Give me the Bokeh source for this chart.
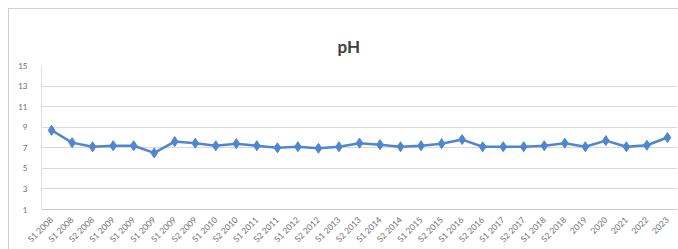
from math import pi
from bokeh.plotting import figure
from bokeh.models import Range1d, FixedTicker, Title
from bokeh.embed import file_html
from bokeh.resources import INLINE

title_text = "pH"
labels = ["S1 2008", "S1 2008", "S2 2008", "S1 2009", "S1 2009", "S1 2009", "S1 2009",
          "S2 2009", "S1 2010", "S2 2010", "S1 2011", "S2 2011", "S1 2012", "S2 2012",
          "S1 2013", "S2 2013", "S1 2014", "S2 2014", "S1 2015", "S2 2015", "S1 2016",
          "S2 2016", "S1 2017", "S2 2017", "S1 2018", "S2 2018", "2019", "2020", "2021",
          "2022", "2023"]
ph = [8.7, 7.5, 7.1, 7.2, 7.2, 6.5, 7.6, 7.45, 7.2, 7.4, 7.2, 7.0, 7.1, 6.95, 7.1,
      7.45, 7.3, 7.1, 7.2, 7.4, 7.8, 7.1, 7.1, 7.1, 7.2, 7.45, 7.1, 7.7, 7.1, 7.25, 8.0]
y_ticks = [1, 3, 5, 7, 9, 11, 13, 15]

xs = list(range(len(labels)))

p = figure(width=670, height=241, output_backend="svg", toolbar_location=None,
           x_range=Range1d(-0.49, 30.49), y_range=Range1d(1, 15),
           min_border_left=32, min_border_right=2, min_border_top=56,
           min_border_bottom=10)

p.styles = {"margin-left": "8px", "margin-top": "8px",
            "border-left": "1px solid #CFCFCF", "border-top": "1px solid #CFCFCF"}

# spacer (closest to the frame), then the visible title above it
p.add_layout(Title(text=" ", text_font_size="7px", standoff=0), "above")
p.add_layout(Title(text=title_text, align="left", offset=296, standoff=0,
                   text_font="Lato", text_font_size="17px", text_font_style="bold",
                   text_color="#404040"), "above")

p.line(xs, ph, line_color="#4F86D0", line_width=2.5)
p.scatter(xs, ph, marker="diamond", size=10, fill_color="#4F86D0", line_color="#4F86D0")

p.xaxis.ticker = FixedTicker(ticks=xs)
p.xaxis.major_label_overrides = {i: l for i, l in enumerate(labels)}
p.xaxis.major_label_orientation = pi / 4
p.xaxis.major_label_text_font_size = "8.5px"
p.xaxis.major_label_text_color = "#707070"
p.xaxis.major_label_text_font = "Lato"
p.xaxis.major_tick_line_color = None
p.xaxis.minor_tick_line_color = None
p.xaxis.axis_line_color = "#C8C8C8"
p.xaxis.major_label_standoff = 3

p.yaxis.ticker = FixedTicker(ticks=y_ticks)
p.yaxis.major_label_text_font_size = "8px"
p.yaxis.major_label_text_color = "#707070"
p.yaxis.major_label_text_font = "Lato"
p.yaxis.major_tick_line_color = None
p.yaxis.minor_tick_line_color = None
p.yaxis.axis_line_color = "#E0E0E0"
p.yaxis.major_label_standoff = 8

p.xgrid.grid_line_color = None
p.ygrid.grid_line_color = "#D9D9D9"
p.ygrid.grid_line_width = 1
p.outline_line_color = None
p.background_fill_color = "white"
p.border_fill_color = "white"

open("out.html", "w").write(file_html(p, INLINE))
